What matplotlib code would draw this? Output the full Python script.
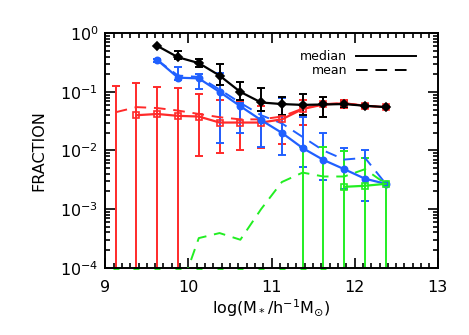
import numpy as np
import matplotlib
matplotlib.use('Agg')
import matplotlib.pyplot as plt
from matplotlib.ticker import MultipleLocator, LogLocator

nan = np.nan

# bin centres, log stellar mass
logm = np.array([9.125, 9.375, 9.625, 9.875, 10.125, 10.375, 10.625,
                 10.875, 11.125, 11.375, 11.625, 11.875, 12.125, 12.375])

# black sample
blk_med = np.array([nan, nan, 0.61, 0.39, 0.31, 0.19, 0.10, 0.066, 0.062, 0.060, 0.061, 0.062, 0.058, 0.055])
blk_lo = np.array([nan, nan, 0.61, 0.37, 0.27, 0.13, 0.073, 0.047, 0.041, 0.040, 0.038, 0.055, 0.055, 0.055])
blk_hi = np.array([nan, nan, 0.61, 0.50, 0.36, 0.30, 0.15, 0.118, 0.083, 0.091, 0.083, 0.070, 0.062, 0.055])

# red sample
red_med = np.array([0, 0.040, 0.042, 0.039, 0.038, 0.030, 0.030, 0.030, 0.034, 0.051, 0.061, 0.064, 0.058, 0.055])
red_lo = np.array([0, 0, 0, 0, 0.0079, 0.0092, 0.0102, 0.011, 0.013, 0.027, 0.038, 0.054, 0.054, 0.053])
red_hi = np.array([0.126, 0.14, 0.12, 0.115, 0.092, 0.073, 0.068, 0.058, 0.062, 0.073, 0.081, 0.072, 0.062, 0.057])
red_mean = np.array([0.045, 0.055, 0.053, 0.048, 0.042, 0.037, 0.034, 0.034, 0.038, 0.052, 0.062, 0.064, 0.058, 0.055])

# blue sample
blu_med = np.array([nan, nan, 0.35, 0.175, 0.17, 0.10, 0.057, 0.033, 0.020, 0.011, 0.0069, 0.0048, 0.0033, 0.0027])
blu_lo = np.array([nan, nan, 0.33, 0.16, 0.11, 0.0135, 0.02, 0.0113, 0.0084, 0.0053, 0.0031, 0.0022, 0.0014, 0.0027])
blu_hi = np.array([nan, nan, 0.37, 0.27, 0.20, 0.21, 0.065, 0.068, 0.08, 0.038, 0.020, 0.011, 0.010, 0.0027])
blu_mean = np.array([nan, nan, 0.35, 0.19, 0.18, 0.11, 0.065, 0.040, 0.029, 0.017, 0.010, 0.0070, 0.0075, 0.0027])

# green sample
grn_med = np.array([0, 0, 0, 0, 0, 0, 0, 0, 0, 0, 0, 0.0024, 0.0025, 0.0027])
grn_lo = np.array([0, 0, 0, 0, 0, 0, 0, 0, 0, 0, 0, 0, 0, 0])
grn_hi = np.array([0, 0, 0, 0, 0, 0, 0, 0, 0, 0.0116, 0.0116, 0.0099, 0.0074, 0.0027])
grn_mean = np.array([0, 0, 0, 3.2e-5, 3.2e-4, 3.9e-4, 3.0e-4, 1.0e-3, 2.9e-3, 4.2e-3, 3.6e-3, 3.6e-3, 4.8e-3, 2.7e-3])

BLACK = 'black'
RED = '#ff2a2a'
BLUE = '#2060ff'
GREEN = '#22ee22'

YMIN, YMAX = 1e-4, 1.0

plt.rcParams['font.family'] = ['DejaVu Sans']
plt.rcParams['mathtext.fontset'] = 'dejavusans'

fig = plt.figure(figsize=(4.69, 3.35), dpi=100)
ax = fig.add_axes([0.2245, 0.2009, 0.7088, 0.6997])
ax.set_yscale('log')


def draw(med, lo, hi, mean, color, marker, filled, ms):
    ok = ~np.isnan(hi) & (hi > 0)
    lo_c = np.where(lo > 0, lo, 1e-8)
    ax.vlines(logm[ok], lo_c[ok], hi[ok], color=color, lw=1.4, zorder=2)
    ax.plot(logm[ok], hi[ok], '_', color=color, ms=6, mew=1.4, zorder=2)
    okl = ok & (lo > 0)
    ax.plot(logm[okl], lo[okl], '_', color=color, ms=6, mew=1.4, zorder=2)
    if mean is not None:
        m = np.where(mean > 0, mean, nan)
        ax.plot(logm, m, '--', color=color, lw=1.4, dashes=(6, 4), zorder=3)
    pos = med > 0
    ax.plot(logm[pos], med[pos], '-', color=color, lw=1.6, marker=marker, ms=ms,
            mfc=color if filled else 'none', mec=color, mew=1.2, zorder=4)


draw(red_med, red_lo, red_hi, red_mean, RED, 's', False, 5)
draw(blu_med, blu_lo, blu_hi, blu_mean, BLUE, 'o', True, 4.5)
draw(grn_med, grn_lo, grn_hi, grn_mean, GREEN, 's', False, 5)
draw(blk_med, blk_lo, blk_hi, None, BLACK, 'D', True, 4)

# zero values of the green sample sit on the lower axis
zero = grn_med <= 0
ax.plot(logm[zero], np.full(zero.sum(), YMIN), '_', color=GREEN, ms=5, mew=2,
        clip_on=False, zorder=1)

ax.set_xlim(9, 13)
ax.set_ylim(YMIN, YMAX)
ax.xaxis.set_major_locator(MultipleLocator(1))
ax.xaxis.set_minor_locator(MultipleLocator(0.1))
ax.yaxis.set_major_locator(LogLocator(base=10, numticks=10))
ax.yaxis.set_minor_locator(LogLocator(base=10, subs=np.arange(2, 10), numticks=10))
ax.tick_params(which='both', direction='in', top=True, right=True, labelsize=11.5,
               width=1.2)
ax.tick_params(axis='x', pad=9)
ax.tick_params(axis='y', pad=5)
ax.tick_params(which='major', length=7)
ax.tick_params(which='minor', length=3.5)
for s in ax.spines.values():
    s.set_linewidth(1.4)

ax.set_ylabel('FRACTION', fontsize=11.5, labelpad=10)
ax.set_xlabel(r'log(M$_*$/h$^{-1}$M$_{\odot}$)', fontsize=11.5, labelpad=2)

# legend drawn by hand, IDL style
ax.text(0.727, 0.903, 'median', transform=ax.transAxes, ha='right', va='center', fontsize=9)
ax.plot([0.754, 0.935], [0.903, 0.903], '-', color=BLACK, lw=1.4, transform=ax.transAxes)
ax.text(0.727, 0.843, 'mean', transform=ax.transAxes, ha='right', va='center', fontsize=9)
ax.plot([0.754, 0.92], [0.843, 0.843], '--', color=BLACK, lw=1.4, dashes=(6, 4),
        transform=ax.transAxes)

fig.savefig('out.png', dpi=100)
